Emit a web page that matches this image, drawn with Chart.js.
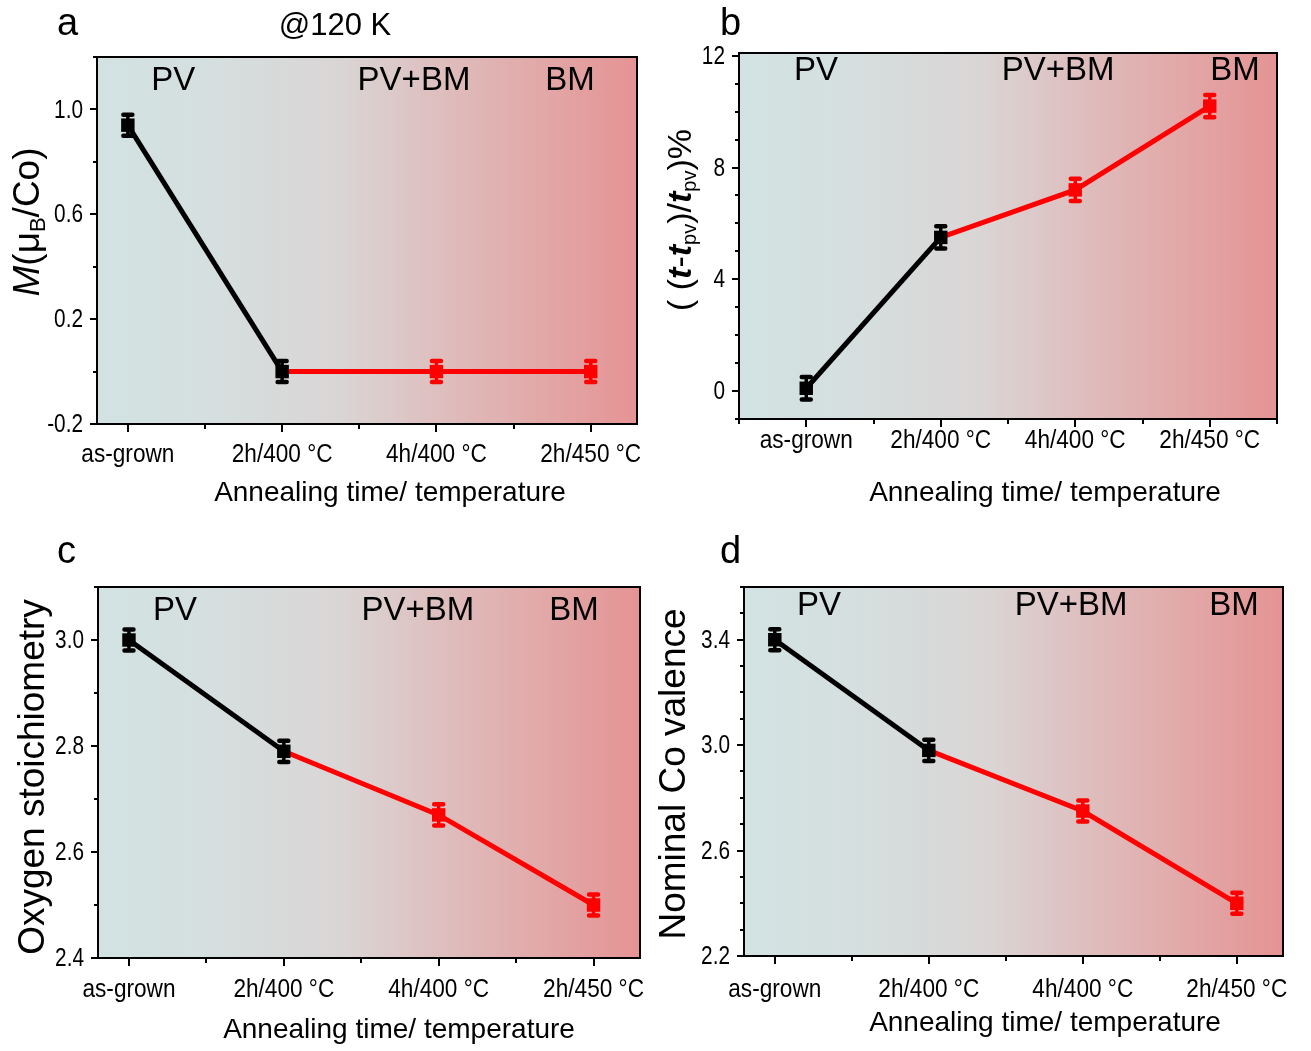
<!DOCTYPE html>
<html>
<head>
<meta charset="utf-8">
<script src="https://cdn.jsdelivr.net/npm/chart.js@4.4.1/dist/chart.umd.min.js"></script>
<style>
  html, body { margin: 0; padding: 0; background: #ffffff; }
  body { width: 1311px; height: 1051px; position: relative; overflow: hidden; }
  canvas { position: absolute; }
</style>
</head>
<body>
<canvas id="panelA" width="655" height="520" style="left:0px;top:0px"></canvas>
<canvas id="panelB" width="656" height="520" style="left:655px;top:0px"></canvas>
<canvas id="panelC" width="655" height="531" style="left:0px;top:520px"></canvas>
<canvas id="panelD" width="656" height="531" style="left:655px;top:520px"></canvas>
<script>
// Annealing conditions along the x axis
const categories = ['as-grown', '2h/400 °C', '4h/400 °C', '2h/450 °C'];
const phaseLabels = ['PV', 'PV+BM', 'BM'];

// (a) magnetic moment at 120 K, μB per Co
const moment = [0.94, 0.0, 0.0, 0.0];
const momentErr = [0.04, 0.04, 0.04, 0.04];
const momentTicks = [-0.2, 0.2, 0.6, 1.0];

// (b) relative thickness change, %
const thickness = [0.1, 5.5, 7.2, 10.2];
const thicknessErr = [0.4, 0.4, 0.4, 0.4];
const thicknessTicks = [0, 4, 8, 12];

// (c) oxygen stoichiometry
const oxygen = [3.0, 2.79, 2.67, 2.50];
const oxygenErr = [0.02, 0.02, 0.02, 0.02];
const oxygenTicks = [2.4, 2.6, 2.8, 3.0];

// (d) nominal Co valence
const valence = [3.4, 2.98, 2.75, 2.40];
const valenceErr = [0.04, 0.04, 0.04, 0.04];
const valenceTicks = [2.2, 2.6, 3.0, 3.4];

const SANS = '"Liberation Sans", Arial, "DejaVu Sans", sans-serif';
const RED = '#ff0000';
const BLACK = '#000000';
// tick labels use a horizontally squeezed sans face
const TICK_FONT = '26px ' + SANS;
const X_SQUEEZE = 0.87;
const Y_SQUEEZE = 0.8;

const panels = [
  {
    id: 'panelA', left: 0, top: 0, width: 655, height: 520,
    area: { l: 97, t: 57, r: 637, b: 424 },
    values: moment, errors: momentErr, ticks: momentTicks, fmt: v => v.toFixed(1),
    yMin: -0.2, yMax: 1.2, yMinor: 0.2, xMin: -0.2, xMax: 3.3, xLabelDy: 31,
    letter: 'a', letterPos: [57, 35],
    extra: { text: '@120 K', x: 335, y: 35 },
    xTitlePos: [390, 493],
    yTitle: [{ t: 'M', st: 'italic ' }, { t: '(μ' }, { t: 'B', sub: true }, { t: '/Co)' }],
    yTitleSize: 37, yTitlePos: [39, 222],
    phaseX: [0.141, 0.587, 0.876], phaseBase: 33
  },
  {
    id: 'panelB', left: 655, top: 0, width: 656, height: 520,
    area: { l: 739, t: 53, r: 1277, b: 419 },
    values: thickness, errors: thicknessErr, ticks: thicknessTicks, fmt: v => String(v),
    yMin: -1, yMax: 12.1, yMinor: 1, xMin: -0.5, xMax: 3.5, xLabelDy: 22,
    letter: 'b', letterPos: [720, 35],
    xTitlePos: [1045, 493],
    yTitle: [{ t: '( (' }, { t: 't', st: 'italic bold ' }, { t: '-' }, { t: 't', st: 'italic bold ' },
             { t: 'pv', sub: true }, { t: ')/' }, { t: 't', st: 'italic bold ' }, { t: 'pv', sub: true }, { t: ')%' }],
    yTitleSize: 34, yTitlePos: [691, 220],
    phaseX: [0.143, 0.593, 0.922], phaseBase: 27
  },
  {
    id: 'panelC', left: 0, top: 520, width: 655, height: 531,
    area: { l: 98, t: 587, r: 640, b: 958 },
    values: oxygen, errors: oxygenErr, ticks: oxygenTicks, fmt: v => v.toFixed(1),
    yMin: 2.4, yMax: 3.1, yMinor: 0.1, xMin: -0.2, xMax: 3.3, xLabelDy: 32,
    letter: 'c', letterPos: [57, 563],
    xTitlePos: [399, 1030],
    yTitle: [{ t: 'Oxygen stoichiometry' }],
    yTitleSize: 37, yTitlePos: [44, 777],
    phaseX: [0.142, 0.590, 0.878], phaseBase: 33
  },
  {
    id: 'panelD', left: 655, top: 520, width: 656, height: 531,
    area: { l: 744, t: 587, r: 1283, b: 956 },
    values: valence, errors: valenceErr, ticks: valenceTicks, fmt: v => v.toFixed(1),
    yMin: 2.2, yMax: 3.6, yMinor: 0.1, xMin: -0.2, xMax: 3.3, xLabelDy: 34,
    letter: 'd', letterPos: [720, 563],
    xTitlePos: [1045, 1023],
    yTitle: [{ t: 'Nominal Co valence' }],
    yTitleSize: 37, yTitlePos: [685, 774],
    phaseX: [0.139, 0.607, 0.909], phaseBase: 28
  }
];

// Draws a run of text segments (with optional subscripts) centred at (x, y), rotated.
function drawRich(ctx, segs, size, x, y, rotation) {
  ctx.save();
  ctx.translate(x, y);
  ctx.rotate(rotation);
  ctx.textBaseline = 'alphabetic';
  ctx.textAlign = 'left';
  const fontOf = s => (s.st || '') + (s.sub ? Math.round(size * 0.6) : size) + 'px ' + SANS;
  let total = 0;
  segs.forEach(s => { ctx.font = fontOf(s); total += ctx.measureText(s.t).width; });
  let cx = -total / 2;
  segs.forEach(s => {
    ctx.font = fontOf(s);
    ctx.fillText(s.t, cx, s.sub ? size * 0.16 : 0);
    cx += ctx.measureText(s.t).width;
  });
  ctx.restore();
}

// Text squeezed horizontally around its anchor point
function squeezedText(ctx, text, x, y, sx) {
  ctx.save();
  ctx.translate(x, y);
  ctx.scale(sx, 1);
  ctx.fillText(text, 0, 0);
  ctx.restore();
}

function near(a, b) { return Math.abs(a - b) < 1e-6; }

const panelPlugin = {
  id: 'panelDecor',
  beforeDatasetsDraw(chart) {
    const { ctx, chartArea: a } = chart;
    const g = ctx.createLinearGradient(a.left, 0, a.right, 0);
    g.addColorStop(0, '#d2e2e2');
    g.addColorStop(0.2, '#d5dfdf');
    g.addColorStop(0.45, '#dad5d5');
    g.addColorStop(0.7, '#e0b6b6');
    g.addColorStop(1, '#e59393');
    ctx.save();
    ctx.fillStyle = g;
    ctx.fillRect(a.left, a.top, a.right - a.left, a.bottom - a.top);
    ctx.restore();
  },
  afterDatasetsDraw(chart) {
    // error bars for every drawn marker
    const { ctx } = chart;
    const ys = chart.scales.y;
    chart.data.datasets.forEach((ds, di) => {
      const meta = chart.getDatasetMeta(di);
      meta.data.forEach((pt, j) => {
        const r = Array.isArray(ds.pointRadius) ? ds.pointRadius[j] : ds.pointRadius;
        const d = ds.data[j];
        if (!r || d == null || d.y == null) return;
        const e = ds.errors[j];
        const y1 = ys.getPixelForValue(d.y + e);
        const y2 = ys.getPixelForValue(d.y - e);
        ctx.save();
        ctx.strokeStyle = ds.borderColor;
        ctx.lineWidth = 3.5;
        ctx.beginPath();
        ctx.moveTo(pt.x, y1); ctx.lineTo(pt.x, y2);
        ctx.stroke();
        ctx.lineWidth = 4.5;
        ctx.lineCap = 'round';
        ctx.beginPath();
        ctx.moveTo(pt.x - 4.5, y1); ctx.lineTo(pt.x + 4.5, y1);
        ctx.moveTo(pt.x - 4.5, y2); ctx.lineTo(pt.x + 4.5, y2);
        ctx.stroke();
        ctx.restore();
      });
    });
  },
  afterDraw(chart) {
    const p = chart.options.plugins.panelDecor.panel;
    const { ctx, chartArea: a } = chart;
    const xs = chart.scales.x, ys = chart.scales.y;
    ctx.save();
    // frame
    ctx.strokeStyle = '#000';
    ctx.lineWidth = 2;
    ctx.strokeRect(a.left, a.top, a.right - a.left, a.bottom - a.top);
    // y ticks (outward)
    ctx.beginPath();
    const n0 = Math.ceil(p.yMin / p.yMinor - 1e-6), n1 = Math.floor(p.yMax / p.yMinor + 1e-6);
    for (let n = n0; n <= n1; n++) {
      const v = n * p.yMinor;
      const major = p.ticks.some(t => near(t, v));
      const y = Math.round(ys.getPixelForValue(v));
      ctx.moveTo(a.left, y); ctx.lineTo(a.left - (major ? 7 : 4), y);
    }
    // x ticks (outward)
    for (let n = Math.ceil(p.xMin * 2 - 1e-6); n <= Math.floor(p.xMax * 2 + 1e-6); n++) {
      const v = n / 2;
      const major = n % 2 === 0;
      const x = Math.round(xs.getPixelForValue(v));
      ctx.moveTo(x, a.bottom); ctx.lineTo(x, a.bottom + (major ? 8 : 5));
    }
    ctx.stroke();

    // tick labels from the scales' own ticks
    ctx.fillStyle = '#000';
    ctx.font = TICK_FONT;
    ctx.textBaseline = 'middle';
    ctx.textAlign = 'right';
    ys.ticks.forEach(t => {
      squeezedText(ctx, t.label, a.left - 14, ys.getPixelForValue(t.value) + 1, Y_SQUEEZE);
    });
    ctx.textAlign = 'center';
    xs.ticks.forEach(t => {
      squeezedText(ctx, t.label, xs.getPixelForValue(t.value), a.bottom + p.xLabelDy, X_SQUEEZE);
    });

    const ox = p.left, oy = p.top;
    // panel letter
    ctx.textAlign = 'left';
    ctx.textBaseline = 'alphabetic';
    ctx.font = '38px ' + SANS;
    ctx.fillText(p.letter, p.letterPos[0] - ox, p.letterPos[1] - oy);
    if (p.extra) {
      ctx.textAlign = 'center';
      ctx.font = '31px ' + SANS;
      squeezedText(ctx, p.extra.text, p.extra.x - ox, p.extra.y - oy, 1.0);
    }
    // phase names
    ctx.textAlign = 'center';
    ctx.font = '33px ' + SANS;
    phaseLabels.forEach((lab, i) => {
      ctx.fillText(lab, a.left + p.phaseX[i] * (a.right - a.left), a.top + p.phaseBase);
    });
    // x title
    ctx.font = '28px ' + SANS;
    ctx.textBaseline = 'middle';
    ctx.fillText('Annealing time/ temperature', p.xTitlePos[0] - ox, p.xTitlePos[1] - oy);
    // y title
    drawRich(ctx, p.yTitle, p.yTitleSize, p.yTitlePos[0] - ox, p.yTitlePos[1] - oy, -Math.PI / 2);
    ctx.restore();
  }
};

panels.forEach(p => {
  const pts = p.values.map((v, i) => ({ x: i, y: v }));
  const canvas = document.getElementById(p.id);
  new Chart(canvas, {
    type: 'line',
    data: {
      datasets: [
        {
          // as-grown → first anneal
          data: pts.slice(0, 2),
          errors: p.errors.slice(0, 2),
          borderColor: BLACK, backgroundColor: BLACK,
          borderWidth: 5, pointStyle: 'rect',
          pointRadius: [9.5, 9.5], pointBorderWidth: 0,
          order: 0
        },
        {
          // annealed series
          data: pts.slice(1),
          errors: p.errors.slice(1),
          borderColor: RED, backgroundColor: RED,
          borderWidth: 5, pointStyle: 'rect',
          pointRadius: [0, 9.5, 9.5], pointBorderWidth: 0,
          order: 1
        }
      ]
    },
    options: {
      responsive: false,
      animation: false,
      devicePixelRatio: 1,
      layout: {
        padding: {
          left: 0,
          top: p.area.t - p.top,
          right: p.left + p.width - p.area.r,
          bottom: 0
        }
      },
      plugins: {
        legend: { display: false },
        tooltip: { enabled: false },
        panelDecor: { panel: p }
      },
      scales: {
        x: {
          type: 'linear', min: p.xMin, max: p.xMax,
          grid: { display: false, drawTicks: false },
          border: { display: false },
          afterBuildTicks: s => { s.ticks = categories.map((c, i) => ({ value: i })); },
          afterFit: s => { s.height = p.top + p.height - p.area.b; },
          ticks: { display: false, autoSkip: false, callback: v => categories[v] }
        },
        y: {
          type: 'linear', min: p.yMin, max: p.yMax,
          grid: { display: false, drawTicks: false },
          border: { display: false },
          afterBuildTicks: s => { s.ticks = p.ticks.map(v => ({ value: v })); },
          afterFit: s => { s.width = p.area.l - p.left; },
          ticks: { display: false, callback: v => p.fmt(v) }
        }
      }
    },
    plugins: [panelPlugin]
  });
});
</script>
</body>
</html>
